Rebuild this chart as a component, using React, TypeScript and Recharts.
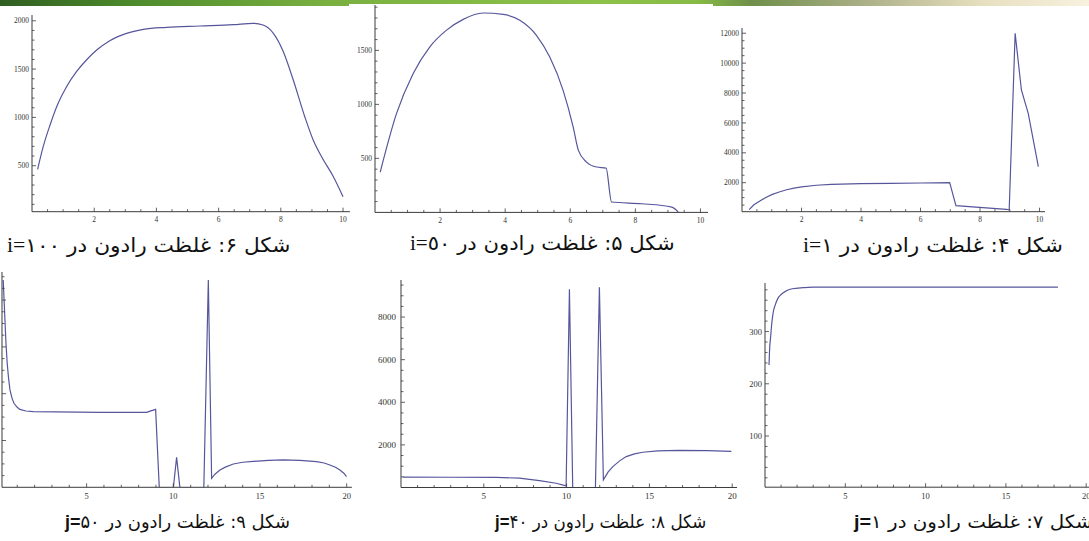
import React, { useLayoutEffect, useRef, useState } from 'react';
import { LineChart, Line, XAxis, YAxis } from 'recharts';

// figure 6: radon concentration at i=100
const fig6X = [0.18, 0.36, 0.58, 0.84, 1.11, 1.43, 1.75, 2.08, 2.5, 3.04, 3.58, 4.33, 5.4, 6.47, 7.11, 7.43, 7.76, 8.08, 8.4, 8.77, 9.04, 9.31, 9.69, 10.0];
const fig6Y = [462, 697, 921, 1146, 1318, 1473, 1594, 1697, 1794, 1870, 1911, 1932, 1946, 1960, 1974, 1956, 1870, 1680, 1387, 1007, 766, 593, 386, 179];

// figure 5: i=50
const fig5X = [0.16, 0.66, 1.17, 1.68, 2.19, 2.71, 3.32, 3.94, 4.45, 4.96, 5.37, 5.78, 6.09, 6.25, 6.5, 6.81, 7.1, 7.27, 8.2, 9.12, 9.32];
const fig5Y = [373, 914, 1284, 1531, 1685, 1787, 1846, 1833, 1778, 1639, 1438, 1130, 790, 574, 466, 420, 410, 96, 80, 49, 3];

// figure 4: i=1
const fig4X = [0.24, 0.4, 0.6, 0.8, 1.0, 1.25, 1.5, 1.75, 2.0, 2.5, 3.0, 4.0, 5.0, 6.0, 6.98, 7.19, 8.89, 8.98, 9.18, 9.39, 9.62, 9.96];
const fig4Y = [200, 520, 780, 1010, 1200, 1380, 1530, 1640, 1720, 1830, 1890, 1940, 1960, 1980, 2000, 462, 221, 174, 11995, 8202, 6640, 3071];

// figure 9: j=50 (its y labels are off the left edge in the source)
const fig9X = [0.19, 0.24, 0.29, 0.35, 0.42, 0.5, 0.58, 0.7, 0.81, 1.0, 1.15, 1.5, 1.92, 5.77, 8.46, 8.75, 8.98, 9.19, 10.0, 10.19, 10.38, 11.76, 12.02, 12.21, 12.4, 12.69, 13.0, 13.46, 14.0, 14.61, 15.5, 16.34, 17.3, 18.26, 18.7, 19.03, 19.35, 19.61, 19.85, 19.99];
const fig9Y = [8860, 8000, 7150, 6150, 5300, 4650, 4160, 3800, 3590, 3420, 3330, 3260, 3230, 3200, 3200, 3275, 3330, 0, -40, 1280, 0, -40, 8860, 385, 560, 740, 860, 997, 1070, 1110, 1150, 1168, 1150, 1096, 1040, 952, 860, 740, 590, 455];

// figure 8: j=40
const fig8X = [0.11, 3.0, 5.74, 7.15, 8.36, 9.37, 9.97, 10.17, 10.37, 11.38, 11.74, 11.98, 12.22, 12.5, 12.79, 13.2, 13.6, 14.1, 14.6, 15.5, 16.8, 18.5, 19.95];
const fig8Y = [483, 482, 478, 436, 324, 201, 75, 9310, -33, -66, 0, 9404, 357, 720, 983, 1250, 1452, 1580, 1655, 1715, 1745, 1730, 1700];

// figure 7: j=1
const fig7X = [0.25, 0.28, 0.35, 0.42, 0.5, 0.65, 0.81, 1.0, 1.33, 1.7, 2.37, 3.0, 18.24];
const fig7Y = [236, 262, 290, 315, 335, 352, 364, 371, 378, 382, 384, 385, 385];

// labelled ticks
const majorX10 = [2, 4, 6, 8, 10];
const majorX20 = [5, 10, 15, 20];
const majorY6 = [500, 1000, 1500, 2000];
const majorY5 = [500, 1000, 1500];
const majorY4 = [2000, 4000, 6000, 8000, 10000, 12000];
const majorY9 = [2000, 4000, 6000, 8000];
const majorY8 = [2000, 4000, 6000, 8000];
const majorY7 = [100, 200, 300];

const LINE = '#56569c';
const AXIS = '#3a3a3a';
const YW = 34;
const XH = 22;

const steps = (from: number, to: number, step: number) => {
  const out: number[] = [];
  const n = Math.round((to - from) / step);
  for (let i = 0; i <= n; i++) out.push(Math.round((from + i * step) * 1000) / 1000);
  return out;
};

const zip = (xs: number[], ys: number[]) => xs.map((x, i) => ({ x, y: ys[i] }));
const isIn = (list: number[], v: number) => list.some((m) => Math.abs(m - v) < 1e-6);

const XTick = ({ x, y, payload, major, fs }: any) => {
  const big = isIn(major, payload.value);
  return (
    <g>
      <line x1={x} x2={x} y1={y} y2={y - (big ? 4 : 2.5)} stroke={AXIS} strokeWidth={0.8} />
      {big && (
        <text x={x} y={y + fs + 3} textAnchor="middle" fontSize={fs} fontFamily='"Liberation Serif", serif' fill="#333">
          {payload.value}
        </text>
      )}
    </g>
  );
};

const YTick = ({ x, y, payload, major, fs, gap, noLabels }: any) => {
  const big = isIn(major, payload.value);
  return (
    <g>
      <line x1={x} x2={x + (big ? 4 : 2.5)} y1={y} y2={y} stroke={AXIS} strokeWidth={0.8} />
      {big && !noLabels && (
        <text x={x - gap} y={y + fs * 0.35} textAnchor="end" fontSize={fs} fontFamily='"Liberation Serif", serif' fill="#333">
          {payload.value}
        </text>
      )}
    </g>
  );
};

type PanelProps = {
  x0: number; // page x of the left end of the x axis
  x1: number;
  yTop: number;
  yBottom: number;
  data: { x: number; y: number }[];
  xDomain: [number, number];
  yDomain: [number, number];
  xTicks: number[];
  yTicks: number[];
  xMajor: number[];
  yMajor: number[];
  curve: 'linear' | 'monotone';
  fs: number;
  gap?: number;
  noYLabels?: boolean;
};

const Panel = ({ x0, x1, yTop, yBottom, data, xDomain, yDomain, xTicks, yTicks, xMajor, yMajor, curve, fs, gap = 3, noYLabels = false }: PanelProps) => (
  <div style={{ position: 'absolute', left: x0 - YW, top: yTop }}>
    <LineChart width={x1 - x0 + YW} height={yBottom - yTop + XH} data={data} margin={{ top: 0, right: 0, bottom: 0, left: 0 }}>
      <XAxis
        dataKey="x"
        type="number"
        domain={xDomain}
        ticks={xTicks}
        interval={0}
        height={XH}
        tickSize={0}
        tickMargin={0}
        tickLine={false}
        allowDataOverflow
        axisLine={{ stroke: AXIS, strokeWidth: 1 }}
        tick={(p: any) => <XTick {...p} major={xMajor} fs={fs} />}
      />
      <YAxis
        type="number"
        domain={yDomain}
        ticks={yTicks}
        interval={0}
        width={YW}
        tickSize={0}
        tickMargin={0}
        tickLine={false}
        allowDataOverflow
        axisLine={{ stroke: AXIS, strokeWidth: 1 }}
        tick={(p: any) => <YTick {...p} major={yMajor} fs={fs} gap={gap} noLabels={noYLabels} />}
      />
      <Line dataKey="y" type={curve} stroke={LINE} strokeWidth={1.2} dot={false} isAnimationActive={false} />
    </LineChart>
  </div>
);

type Cap = { left: number; top: number; width: number; size: number; text: string; tag: string; num: string; bold: boolean };

const captions: Cap[] = [
  { left: 7, top: 235, width: 283, size: 20, text: 'شکل ۶: غلظت رادون در ', tag: 'i=', num: '۱۰۰', bold: false },
  { left: 410, top: 233, width: 265, size: 20, text: 'شکل ۵: غلظت رادون در ', tag: 'i=', num: '٥٠', bold: false },
  { left: 803, top: 235, width: 260, size: 20, text: 'شکل ۴: غلظت رادون در ', tag: 'i=', num: '۱', bold: false },
  { left: 65, top: 513, width: 225, size: 18, text: 'شکل ۹: غلظت رادون در ', tag: 'j=', num: '۵۰', bold: true },
  { left: 495, top: 513, width: 211, size: 18, text: 'شکل ۸: علظت رادون در ', tag: 'j=', num: '۴۰', bold: true },
  { left: 854, top: 513, width: 238, size: 18, text: 'شکل ۷: غلظت رادون در ', tag: 'j=', num: '۱', bold: true },
];

const Caption = ({ cap }: { cap: Cap }) => {
  const ref = useRef<HTMLSpanElement>(null);
  const [sx, setSx] = useState(1);
  useLayoutEffect(() => {
    const w = ref.current ? ref.current.offsetWidth : 0;
    if (w > 0) setSx(cap.width / w);
  }, [cap.width]);
  return (
    <div style={{ position: 'absolute', left: cap.left, top: cap.top, height: 30 }}>
      <span
        ref={ref}
        dir="rtl"
        style={{
          display: 'inline-block',
          whiteSpace: 'nowrap',
          transform: `scaleX(${sx})`,
          transformOrigin: '0 0',
          fontSize: cap.size,
          lineHeight: 1,
          color: '#111',
          fontFamily: '"DejaVu Sans", sans-serif',
        }}
      >
        {cap.text}
        <span dir="ltr" style={{ unicodeBidi: 'isolate' }}>
          <span
            style={{
              fontFamily: cap.bold ? '"Liberation Sans", sans-serif' : '"Liberation Serif", serif',
              fontWeight: cap.bold ? 700 : 400,
            }}
          >
            {cap.tag}
          </span>
          {cap.num}
        </span>
      </span>
    </div>
  );
};

export default function App() {
  return (
    <div style={{ position: 'absolute', left: 0, top: 0, width: 1089, height: 541, overflow: 'hidden', background: '#fff' }}>
      <div
        style={{
          position: 'absolute',
          left: 0,
          top: 0,
          width: 1089,
          height: 6,
          background:
            'linear-gradient(90deg, #2f5e22 0%, #4d8a2b 12%, #79b040 30%, #8cc24a 55%, #86bb45 64%, #6f8f4a 69%, #a9ae84 79%, #e6dfbf 90%, #f8f1de 100%)',
        }}
      />
      <div style={{ position: 'absolute', left: 349, top: 4, width: 364, height: 4, background: '#fff' }} />

      <Panel x0={32.1} x1={350} yTop={15} yBottom={211.7} data={zip(fig6X, fig6Y)} xDomain={[0, 10.22]} yDomain={[24, 2060]}
        xTicks={steps(0.5, 10, 0.5)} yTicks={steps(100, 2000, 100)} xMajor={majorX10} yMajor={majorY6} curve="monotone" fs={7.5} />
      <Panel x0={374.5} x1={708.1} yTop={4.6} yBottom={212} data={zip(fig5X, fig5Y)} xDomain={[0, 10.25]} yDomain={[0, 1920]}
        xTicks={steps(0.5, 10, 0.5)} yTicks={steps(100, 1900, 100)} xMajor={majorX10} yMajor={majorY5} curve="monotone" fs={7.5} />
      <Panel x0={741.5} x1={1045} yTop={28} yBottom={211.7} data={zip(fig4X, fig4Y)} xDomain={[0, 10.2]} yDomain={[60, 12350]}
        xTicks={steps(0.5, 10, 0.5)} yTicks={steps(500, 12000, 500)} xMajor={majorX10} yMajor={majorY4} curve="linear" fs={7.5} />

      <Panel x0={2.1} x1={352} yTop={272} yBottom={487.3} data={zip(fig9X, fig9Y)} xDomain={[0.12, 20.3]} yDomain={[0, 9200]}
        xTicks={steps(1, 20, 1)} yTicks={steps(500, 9000, 500)} xMajor={majorX20} yMajor={majorY9} curve="linear" fs={8.5} noYLabels />
      <Panel x0={401.2} x1={737.4} yTop={280.1} yBottom={487.6} data={zip(fig8X, fig8Y)} xDomain={[0, 20.3]} yDomain={[0, 9740]}
        xTicks={steps(1, 20, 1)} yTicks={steps(500, 9500, 500)} xMajor={majorX20} yMajor={majorY8} curve="linear" fs={9} gap={5} />
      <Panel x0={764.7} x1={1090.7} yTop={283} yBottom={487.2} data={zip(fig7X, fig7Y)} xDomain={[0, 20.3]} yDomain={[2, 393]}
        xTicks={steps(1, 20, 1)} yTicks={steps(20, 380, 20)} xMajor={majorX20} yMajor={majorY7} curve="monotone" fs={8.5} />

      {captions.map((c) => (
        <Caption key={c.left} cap={c} />
      ))}
    </div>
  );
}
